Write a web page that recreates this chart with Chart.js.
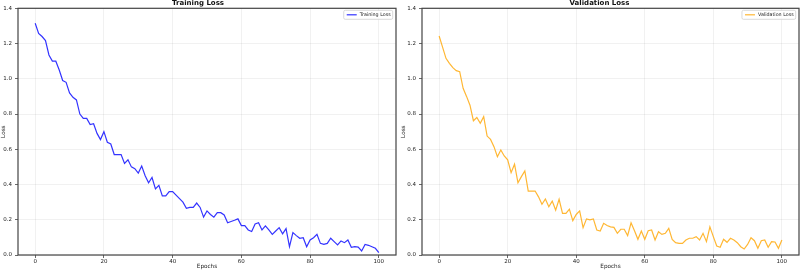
<!DOCTYPE html>
<html>
<head>
<meta charset="utf-8">
<script src="https://cdn.jsdelivr.net/npm/chart.js@4.4.1/dist/chart.umd.min.js"></script>
<style>
    html, body { margin: 0; padding: 0; background: #fff; overflow: hidden; }
    .panel { position: absolute; top: 0; width: 400px; height: 271px; }
    #trainBox { left: 0; }
    #valBox { left: 400px; }
</style>
</head>
<body>
<div class="panel" id="trainBox"><canvas id="trainChart"></canvas></div>
<div class="panel" id="valBox"><canvas id="valChart"></canvas></div>
<script>
// Epochs 0..100
const epochs = Array.from({ length: 101 }, (_, i) => i);

const trainLoss = [
    1.315, 1.258, 1.24, 1.217, 1.135, 1.10, 1.10, 1.05, 0.99, 0.98,
    0.92, 0.895, 0.88, 0.80, 0.775, 0.775, 0.74, 0.745, 0.69, 0.655,
    0.70, 0.64, 0.63, 0.57, 0.57, 0.57, 0.52, 0.54, 0.50, 0.49,
    0.465, 0.505, 0.45, 0.41, 0.44, 0.375, 0.395, 0.335, 0.335, 0.36,
    0.36, 0.34, 0.32, 0.30, 0.265, 0.27, 0.27, 0.295, 0.27, 0.215,
    0.25, 0.23, 0.215, 0.24, 0.24, 0.227, 0.183, 0.19, 0.197, 0.205,
    0.167, 0.167, 0.142, 0.133, 0.176, 0.183, 0.142, 0.165, 0.142, 0.117,
    0.136, 0.155, 0.12, 0.15, 0.047, 0.127, 0.11, 0.095, 0.098, 0.047,
    0.085, 0.098, 0.117, 0.066, 0.06, 0.066, 0.095, 0.076, 0.057, 0.08,
    0.07, 0.085, 0.044, 0.047, 0.045, 0.023, 0.06, 0.055, 0.047, 0.038,
    0.013
];

const valLoss = [
    1.243, 1.18, 1.116, 1.088, 1.063, 1.046, 1.04, 0.946, 0.90, 0.85,
    0.762, 0.78, 0.747, 0.785, 0.675, 0.656, 0.615, 0.558, 0.596, 0.562,
    0.54, 0.467, 0.515, 0.41, 0.445, 0.477, 0.363, 0.363, 0.363, 0.33,
    0.288, 0.318, 0.274, 0.306, 0.255, 0.316, 0.236, 0.236, 0.26, 0.195,
    0.23, 0.25, 0.155, 0.205, 0.20, 0.205, 0.142, 0.136, 0.18, 0.167,
    0.16, 0.157, 0.123, 0.146, 0.146, 0.11, 0.183, 0.138, 0.089, 0.136,
    0.089, 0.138, 0.142, 0.085, 0.132, 0.117, 0.123, 0.151, 0.089, 0.07,
    0.066, 0.066, 0.085, 0.095, 0.095, 0.104, 0.085, 0.123, 0.076, 0.16,
    0.104, 0.051, 0.044, 0.089, 0.072, 0.095, 0.085, 0.07, 0.047, 0.034,
    0.06, 0.098, 0.081, 0.038, 0.081, 0.085, 0.044, 0.076, 0.074, 0.038,
    0.085
];

const xTicks = [0, 20, 40, 60, 80, 100];

const fontFamily = '"DejaVu Sans", sans-serif';

// Box around the plot area, like matplotlib spines
const frame = {
    id: 'frame',
    afterDraw(chart) {
        const { ctx, chartArea: a } = chart;
        ctx.save();
        ctx.strokeStyle = '#444';
        ctx.lineWidth = 1.2;
        ctx.strokeRect(a.left, a.top, a.right - a.left, a.bottom - a.top);
        ctx.restore();
    }
};

// Small legend inside the top right corner
const innerLegend = {
    id: 'innerLegend',
    afterDraw(chart) {
        const ds = chart.data.datasets[0];
        const { ctx, chartArea: a } = chart;
        ctx.save();
        ctx.font = '4.8px ' + fontFamily;
        const tw = ctx.measureText(ds.label).width;
        const w = tw + 18, h = 9;
        const x = a.right - 3.3 - w, y = a.top + 2;
        ctx.beginPath();
        ctx.roundRect(x, y, w, h, 1.5);
        ctx.fillStyle = 'rgba(255,255,255,0.8)';
        ctx.fill();
        ctx.strokeStyle = '#d0d0d0';
        ctx.lineWidth = 0.8;
        ctx.stroke();
        ctx.beginPath();
        ctx.moveTo(x + 3, y + h / 2);
        ctx.lineTo(x + 13, y + h / 2);
        ctx.strokeStyle = ds.borderColor;
        ctx.lineWidth = 1.2;
        ctx.stroke();
        ctx.fillStyle = '#222';
        ctx.textBaseline = 'middle';
        ctx.fillText(ds.label, x + 16, y + h / 2 + 0.3);
        ctx.restore();
    }
};

function makeChart(id, label, values, color, title, yWidth, rightPad) {
    new Chart(document.getElementById(id), {
        type: 'line',
        data: {
            datasets: [{
                label: label,
                data: epochs.map((e, i) => ({ x: e, y: values[i] })),
                borderColor: color,
                borderWidth: 1.2,
                pointRadius: 0,
                tension: 0,
                fill: false
            }]
        },
        options: {
            responsive: true,
            maintainAspectRatio: false,
            animation: false,
            layout: { padding: { left: 0, right: rightPad, top: 0, bottom: 0 } },
            plugins: {
                legend: { display: false },
                tooltip: { enabled: false },
                title: {
                    display: true,
                    text: title,
                    color: '#111',
                    font: { family: fontFamily, size: 7, weight: 'bold', lineHeight: 0.8 },
                    padding: { top: 0, bottom: 2.7 }
                }
            },
            scales: {
                x: {
                    type: 'linear',
                    min: -5,
                    max: 105,
                    afterBuildTicks: scale => {
                        scale.ticks = xTicks.map(v => ({ value: v }));
                    },
                    afterFit: scale => { scale.height = 16; },
                    grid: {
                        color: 'rgba(0,0,0,0.07)',
                        lineWidth: 0.8,
                        tickLength: 3,
                        tickColor: '#444'
                    },
                    border: { display: false },
                    ticks: {
                        color: '#222',
                        padding: 0,
                        maxRotation: 0,
                        font: { family: fontFamily, size: 5.5 }
                    },
                    title: {
                        display: true,
                        text: 'Epochs',
                        color: '#222',
                        padding: { top: 0, bottom: 0.7 },
                        font: { family: fontFamily, size: 5.7 }
                    }
                },
                y: {
                    min: 0,
                    max: 1.4,
                    afterFit: scale => { scale.width = yWidth; },
                    grid: {
                        color: 'rgba(0,0,0,0.07)',
                        lineWidth: 0.8,
                        tickLength: 3,
                        tickColor: '#444'
                    },
                    border: { display: false },
                    ticks: {
                        stepSize: 0.2,
                        color: '#222',
                        padding: 3,
                        font: { family: fontFamily, size: 5.5 },
                        callback: v => v.toFixed(1)
                    },
                    title: {
                        display: true,
                        text: 'Loss',
                        color: '#222',
                        padding: { top: 0.5, bottom: 0 },
                        font: { family: fontFamily, size: 5.7 }
                    }
                }
            }
        },
        plugins: [frame, innerLegend]
    });
}

makeChart('trainChart', 'Training Loss', trainLoss, 'rgba(0,0,255,0.8)', 'Training Loss', 18, 4);
makeChart('valChart', 'Validation Loss', valLoss, 'rgba(255,165,0,0.8)', 'Validation Loss', 22, 1);
</script>
</body>
</html>
